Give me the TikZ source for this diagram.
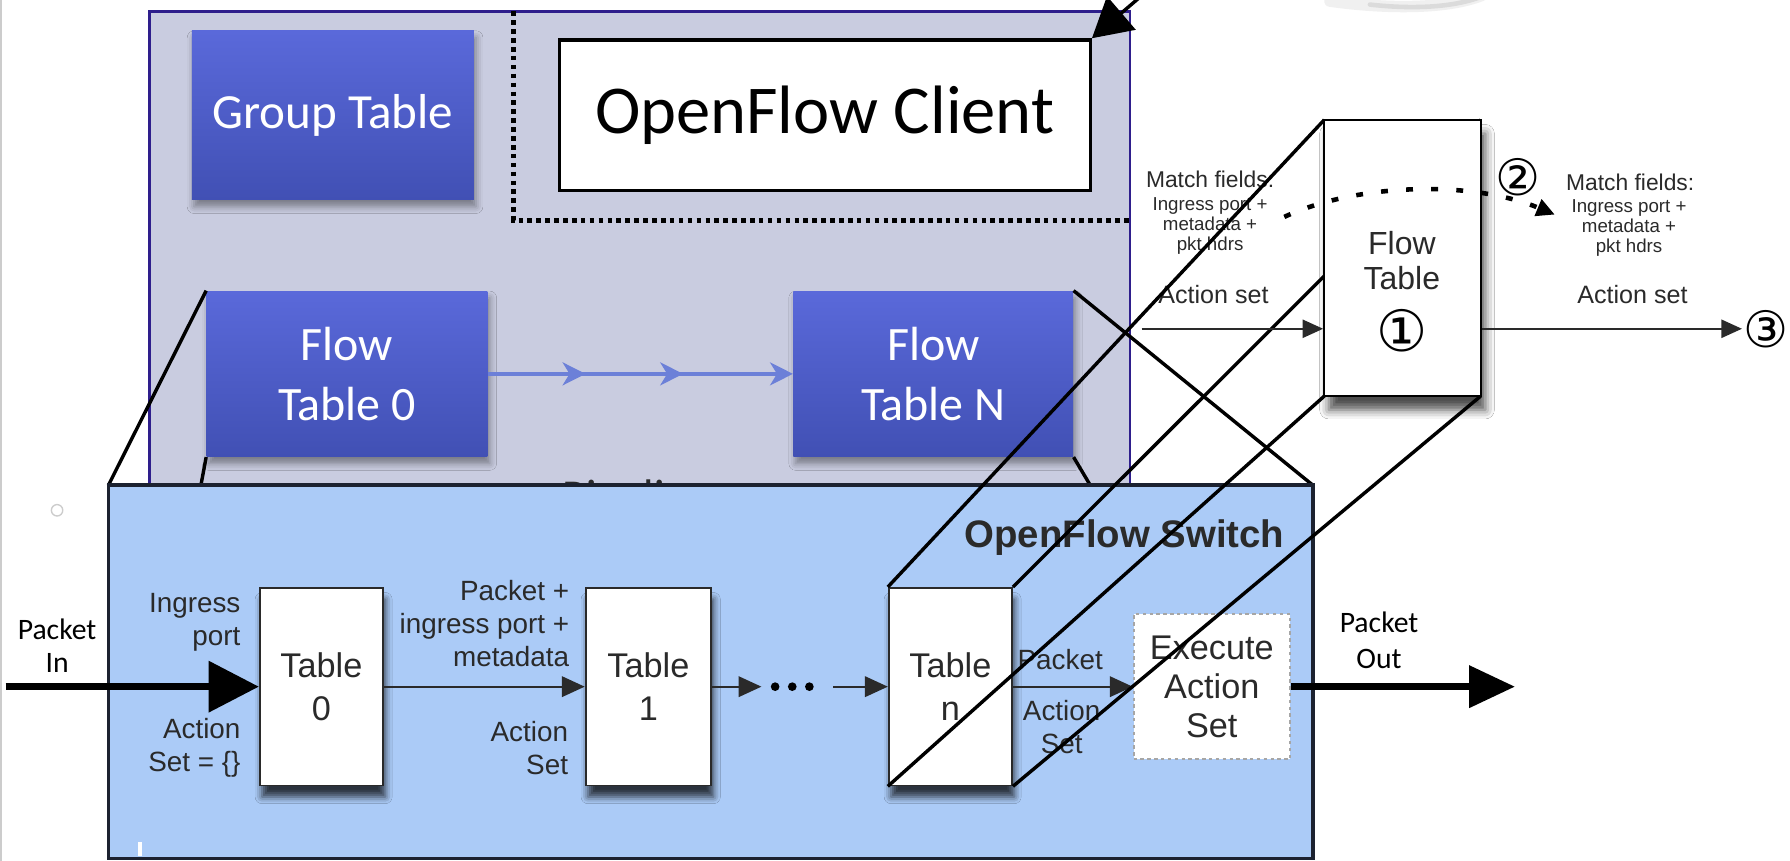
\documentclass[tikz,border=0pt]{standalone}
\usepackage{fontspec}
\setmainfont{Liberation Sans}
\newfontfamily\calfont{Carlito}
\newfontfamily\symfont{DejaVu Sans}
\usetikzlibrary{arrows.meta,shadows.blur,decorations.markings,fit}

\definecolor{pipegray}{HTML}{C9CCE0}
\definecolor{pipeedge}{HTML}{2E1E8C}
\definecolor{tabtop}{HTML}{5A69DA}
\definecolor{tabbot}{HTML}{4150B4}
\definecolor{pipearrow}{HTML}{6C80D8}
\definecolor{swfill}{HTML}{ABCBF7}
\definecolor{swedge}{HTML}{1C2230}
\definecolor{ink}{HTML}{2A2A2A}

\begin{document}
\begin{tikzpicture}[x=0.5pt, y=-0.5pt,
  bluebox/.style={rectangle, inner sep=0pt, top color=tabtop, bottom color=tabbot,
    draw=none, text=white, align=center, font=\calfont\fontsize{21}{26}\selectfont,
    blur shadow={shadow xshift=1pt, shadow yshift=-3pt, shadow blur radius=3pt, shadow opacity=40}},
  tablebox/.style={rectangle, inner sep=0pt, fill=white, draw=ink, line width=0.8pt,
    minimum width=54pt, minimum height=86.5pt, align=center,
    font=\fontsize{15}{18.5}\selectfont, text=ink,
    blur shadow={shadow xshift=1pt, shadow yshift=-5pt, shadow blur radius=3pt, shadow opacity=75}},
  lbl/.style={inner sep=0pt, text=ink, font=\fontsize{12.2}{14.5}\selectfont},
  smalllbl/.style={inner sep=0pt, text=ink, align=center, font=\fontsize{8.2}{8.8}\selectfont},
  fieldlbl/.style={inner sep=0pt, text=ink, font=\fontsize{10}{12}\selectfont},
  actlbl/.style={inner sep=0pt, text=ink, font=\fontsize{11}{13}\selectfont},
  circnum/.style={inner sep=0.5pt, font=\symfont\fontsize{22}{22}\selectfont},
  thinarrow/.style={draw=ink, line width=0.8pt, -{Triangle[length=10pt,width=9pt]}},
  sidearrow/.style={draw=ink, line width=0.75pt, -{Triangle[length=9pt,width=8pt]}},
  fatarrow/.style={draw=black, line width=2.8pt, -{Triangle[length=22pt,width=22pt]}},
  outarrow/.style={draw=black, line width=2.8pt, -{Triangle[length=20pt,width=18pt]}},
  magline/.style={draw=black, line width=1.5pt},
  dotline/.style={draw=black, line width=2pt, dash pattern=on 2pt off 1.9pt},
  pipeflow/.style={draw=pipearrow, line width=2pt, -{Stealth[length=10pt,width=10pt,inset=3pt]},
    postaction={decorate, decoration={markings,
      mark=at position 0.32 with {\arrow{Stealth[length=10pt,width=10pt,inset=3pt]}},
      mark=at position 0.64 with {\arrow{Stealth[length=10pt,width=10pt,inset=3pt]}}}}},
]

\useasboundingbox (0,0) rectangle (1568,754);
\fill[white] (0,0) rectangle (1568,754);
\draw[black!20, line width=0.6pt] (1,0) -- (1,754);
\draw[black!20, line width=0.6pt] (50,447) circle (2.5pt);

% soft shadow of the controller shape above the frame
\draw[black!6, line width=5pt, line cap=round] (1165,1) .. controls (1215,8) and (1268,8) .. (1298,-4);
\draw[black!14, line width=2pt, line cap=round] (1200,4) .. controls (1235,8) and (1272,7) .. (1298,-3);

% pipeline area
\node[draw=pipeedge, fill=pipegray, line width=1pt, minimum width=429.5pt,
      minimum height=245pt, inner sep=0pt] (pipe) at (560.5,255) {};

% dotted client region
\coordinate (dtop) at (450,10);
\coordinate (dcorner) at (450,193);
\draw[dotline] (dtop) -- (dcorner) -- (dcorner -| pipe.east);

\node[bluebox, minimum width=123.5pt, minimum height=74pt, font=\calfont\fontsize{21.5}{26}\selectfont] (grp) at (291.5,101) {Group Table};
\node[draw=black, line width=1.5pt, fill=white, minimum width=232.5pt, minimum height=66pt,
      inner sep=0pt, font=\calfont\fontsize{30}{36}\selectfont] (ofc) at (722.5,101) {OpenFlow Client};

% link to the controller
\coordinate (ctrl) at (1012,-14);
\draw[line width=1.5pt, -{Triangle[length=17pt,width=19pt]}] (ctrl) -- (ofc.north east);

% flow tables of the pipeline
\node[bluebox, minimum width=123pt, minimum height=72.5pt] (ft0) at (304,327.5) {Flow\\Table 0};
\node[bluebox, minimum width=122.5pt, minimum height=72.5pt] (ftN) at (817.5,327.5) {Flow\\Table N};
\draw[pipeflow] (ft0.east) -- (ftN.west);

\node[anchor=base, inner sep=0pt, font=\calfont\fontsize{20}{24}\selectfont, text=ink] (pl) at (558,448) {Pipeline};

% zoom lines down to the switch
\coordinate (swNW) at (95,425);
\coordinate (swNE) at (1150,425);
\coordinate (m0) at (176,425);
\coordinate (mN) at (955,425);
\draw[magline] (ft0.north west) -- (swNW);
\draw[magline] (ft0.south west) -- (m0);
\draw[magline] (ftN.north east) -- (swNE);
\draw[magline] (ftN.south east) -- (mN);

% OpenFlow switch
\node[draw=swedge, fill=swfill, line width=1.7pt, minimum width=527.5pt,
      minimum height=163.5pt, inner sep=0pt] (sw) at (622.5,588.5) {};
\fill[white] (121,738) rectangle (124,750);
\node[inner sep=0pt, text=ink, font=\bfseries\fontsize{16.8}{19}\selectfont] (swt) at (985,471) {OpenFlow Switch};

\node[tablebox] (t0) at (281.5,601.5) {Table\\0};
\node[tablebox, minimum width=55pt] (t1) at (568,601.5) {Table\\1};
\node[tablebox] (tn) at (832.5,601.5) {Table\\n};
\node[rectangle, fill=white, draw=gray!70, line width=0.8pt, dash pattern=on 1.5pt off 1.5pt,
      minimum width=68.5pt, minimum height=63.5pt, inner sep=0pt, align=center,
      font=\fontsize{15}{17}\selectfont, text=ink] (ex) at (1061.5,601.5) {Execute\\Action\\Set};

\coordinate (pin) at (5,601.5);
\draw[fatarrow] (pin) -- (t0.west);
\node[align=center, inner sep=0pt, font=\calfont\fontsize{13}{14.5}\selectfont] (pintxt) at (50,566) {Packet\\In};

\coordinate (pout) at (1327,601.5);
\draw[outarrow] (ex.east) -- (pout);
\node[align=center, inner sep=0pt, font=\calfont\fontsize{13}{16}\selectfont] (pouttxt) at (1208,561) {Packet\\Out};

\draw[thinarrow] (t0.east) -- (t1.west);
\coordinate (d1) at (667,601.5);
\draw[thinarrow] (t1.east) -- (d1);
\foreach \x in {679,694,709} \fill[black] (\x,601.5) circle (1.9pt);
\coordinate (d2) at (730,601.5);
\draw[thinarrow] (d2) -- (tn.west);
\draw[thinarrow] (tn.east) -- (ex.west);

\node[lbl, align=right, anchor=east] (ing) at (211,545) {Ingress\\port};
\node[lbl, align=right, anchor=east] (as0) at (211,655) {Action\\Set = \{\}};
\node[lbl, align=right, anchor=east] (pim) at (499,546) {Packet +\\ingress port +\\metadata};
\node[lbl, align=right, anchor=east] (as1) at (498,655) {Action\\Set};
\node[lbl, anchor=west] (pk) at (891,578) {Packet};
\node[lbl, align=center] (asn) at (930,637) {Action\\Set};

% single flow table, seen in depth
\node[fieldlbl] (mfl) at (1060,157) {Match fields:};
\node[smalllbl] (ipl) at (1060,198) {Ingress port +\\metadata +\\pkt hdrs};
\node[actlbl] (asl) at (1063,258) {Action set};
\node[fieldlbl] (mfr) at (1428,160) {Match fields:};
\node[smalllbl] (ipr) at (1427,200) {Ingress port +\\metadata +\\pkt hdrs};
\node[actlbl] (asr) at (1430,258) {Action set};
\node[circnum] (c2) at (1330,155) {②};

\coordinate (fNW) at (1160,105);
\coordinate (fNE) at (1297,105);
\coordinate (fSW) at (1160,347);
\coordinate (fSE) at (1297,347);
\draw[magline] (tn.north west) -- (fNW);
\draw[magline] (tn.north east) -- (fNE);
\draw[magline] (tn.south west) -- (fSW);
\draw[magline] (tn.south east) -- (fSE);

\node[fit=(fNW)(fSE), inner sep=0pt, fill=white, draw=black, line width=1pt,
      blur shadow={shadow xshift=2pt, shadow yshift=-6pt, shadow blur radius=4pt, shadow opacity=70}] (ft1) {};
\node[align=center, inner sep=0pt, text=ink, font=\fontsize{14}{15.5}\selectfont] (ft1t) at (1228,228) {Flow\\Table};
\node[circnum, font=\symfont\fontsize{25}{25}\selectfont] (c1) at (1228,290) {①};

% path of a packet through the table
\coordinate (cs) at (1125,190);
\coordinate (ce) at (1362,188);
\draw[line width=2pt, dash pattern=on 3pt off 8pt, -{Triangle[length=8pt,width=7.5pt]}]
  (cs) .. controls (1190,160) and (1290,158) .. (ce);

\coordinate (ain) at (1000,288);
\draw[sidearrow] (ain) -- (ain -| ft1.west);
\node[circnum] (c3) at (1547,288) {③};
\draw[sidearrow] (ain -| ft1.east) -- (c3.west);

\end{tikzpicture}
\end{document}
